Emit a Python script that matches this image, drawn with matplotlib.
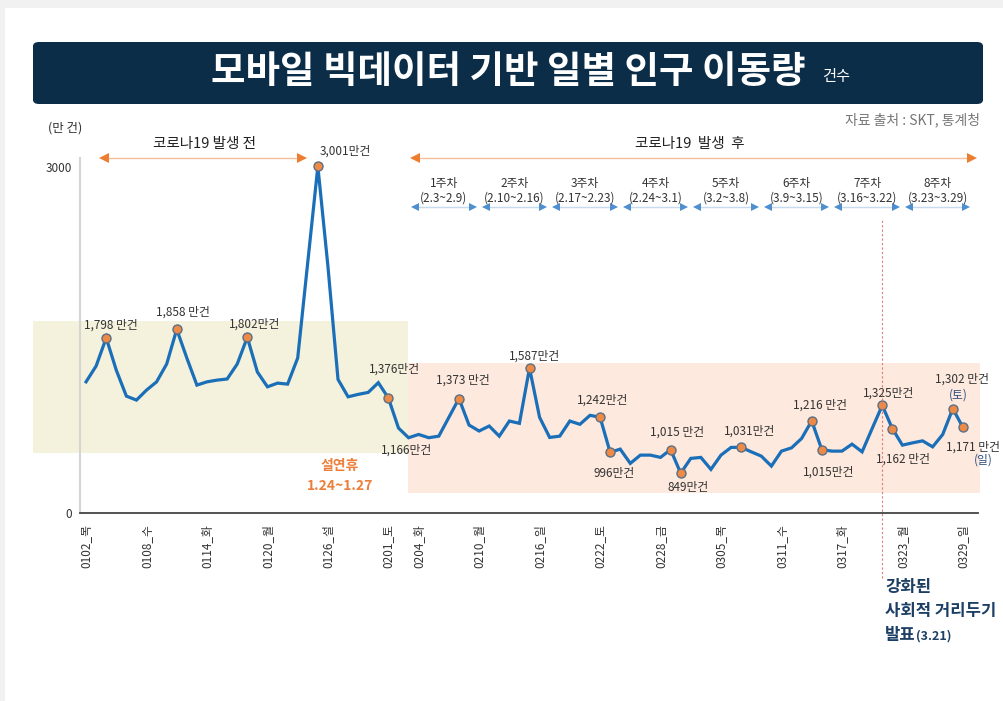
import matplotlib.pyplot as plt
import matplotlib.transforms as mtransforms
from matplotlib.patches import Rectangle, FancyBboxPatch
from matplotlib.lines import Line2D
import pandas as pd

plt.rcParams['font.family'] = ['Noto Sans CJK KR', 'DejaVu Sans']

# daily mobility, 2020-01-02 .. 2020-03-29 (unit: 만 건)
dates = pd.date_range('2020-01-02', '2020-03-29', freq='D')
moves = [
    1490, 1601, 1798, 1572, 1390, 1362, 1432, 1490, 1615, 1858,
    1657, 1467, 1490, 1502, 1510, 1615, 1802, 1559, 1455, 1481,
    1474, 1657, 2330, 3001, 2300, 1507, 1385, 1402, 1416, 1484,
    1376, 1166, 1098, 1121, 1098, 1109, 1241, 1373, 1187, 1145,
    1180, 1109, 1215, 1199, 1587, 1241, 1100, 1109, 1215, 1192,
    1255, 1242, 996, 1018, 918, 976, 976, 960, 1015, 849,
    953, 960, 876, 976, 1030, 1031, 999, 969, 899, 1004,
    1027, 1093, 1216, 1015, 1004, 1004, 1053, 999, 1163, 1325,
    1162, 1046, 1062, 1076, 1034, 1121, 1302, 1171,
]

tick_dates = ['2020-01-02', '2020-01-08', '2020-01-14', '2020-01-20', '2020-01-26',
              '2020-02-01', '2020-02-04', '2020-02-10', '2020-02-16', '2020-02-22',
              '2020-02-28', '2020-03-05', '2020-03-11', '2020-03-17', '2020-03-23',
              '2020-03-29']
tick_labels = ['0102_목', '0108_수', '0114_화', '0120_월', '0126_설', '0201_토',
               '0204_화', '0210_월', '0216_일', '0222_토', '0228_금', '0305_목',
               '0311_수', '0317_화', '0323_월', '0329_일']

week_names = ['1주차', '2주차', '3주차', '4주차', '5주차', '6주차', '7주차', '8주차']
week_ranges = ['(2.3~2.9)', '(2.10~2.16)', '(2.17~2.23)', '(2.24~3.1)',
               '(3.2~3.8)', '(3.9~3.15)', '(3.16~3.22)', '(3.23~3.29)']

# highlighted days and the unit suffix written next to each value
marked_dates = ['2020-01-04', '2020-01-11', '2020-01-18', '2020-01-25', '2020-02-01',
                '2020-02-08', '2020-02-15', '2020-02-22', '2020-02-23', '2020-02-29',
                '2020-03-01', '2020-03-07', '2020-03-14', '2020-03-15', '2020-03-21',
                '2020-03-22', '2020-03-28', '2020-03-29']
marked_suffix = [' 만건', ' 만건', '만건', '만건', '만건', ' 만건', '만건', '만건', '만건',
                 ' 만건', '만건', '만건', ' 만건', '만건', '만건', ' 만건', ' 만건', ' 만건']
plain_label_date = '2020-02-02'

idx = list(range(len(dates)))
pos = {d.strftime('%Y-%m-%d'): i for i, d in enumerate(dates)}

W, H = 1004, 701
fig = plt.figure(figsize=(W / 100, H / 100), dpi=100)
fig.patch.set_facecolor('#f1f1f1')


def fx(px):
    return px / W


def fy(py):
    return 1 - py / H


# white page + title banner
fig.patches.append(Rectangle((fx(5), 0), 1, fy(8), transform=fig.transFigure,
                             facecolor='white', edgecolor='none', zorder=-2))
fig.patches.append(FancyBboxPatch((fx(33), fy(104)), fx(983 - 33), (104 - 42) / H,
                                  boxstyle='round,pad=0,rounding_size=0.006',
                                  transform=fig.transFigure, facecolor='#0c2d48',
                                  edgecolor='none', zorder=-1))
fig.text(fx(508), fy(72), '모바일 빅데이터 기반 일별 인구 이동량', color='white',
         fontsize=27, fontweight='black', ha='center', va='center')
fig.text(fx(822), fy(76), '건수', color='white', fontsize=11, ha='left', va='center')
fig.text(fx(980), fy(120), '자료 출처 : SKT, 통계청', color='#777777', fontsize=10,
         ha='right', va='center')
fig.text(fx(65), fy(128), '(만 건)', color='#333333', fontsize=9, ha='center', va='center')

ax = fig.add_axes([fx(80), fy(513), fx(978 - 80), (513 - 158) / H])
ax.set_facecolor('none')
ax.set_xlim(-0.6, 88.5)
ax.set_ylim(570, 3060)

# shaded periods (extend past the axes on purpose)
ax.add_patch(Rectangle((-5.3, 990), 31.94 + 5.3, 1917 - 990, facecolor='#f4f1dc',
                       edgecolor='none', zorder=0, clip_on=False))
ax.add_patch(Rectangle((31.94, 710), 88.7 - 31.94, 1622 - 710, facecolor='#fde9dd',
                       edgecolor='none', zorder=0, clip_on=False))

blue = '#1a6fb8'
orange = '#ec7f3a'
ax.plot(idx, moves, color=blue, lw=2.3, zorder=3, solid_joinstyle='miter')

mx = [pos[d] for d in marked_dates]
ax.scatter(mx, [moves[i] for i in mx], s=42, facecolor='#ee8a45', edgecolor='#5a6f86',
           linewidth=1.0, zorder=4)

# label offsets in pixels (dx, dy)
offsets = [(5, 13), (6, 17), (7, 13), (27, 15), (6, 29), (4, 18), (5, 12), (3, 17),
           (4, -21), (6, 17), (7, -14), (8, 16), (8, 16), (7, -23), (6, 12), (11, -31),
           (9, 29), (10, -20)]
for i, suf, (dx, dy) in zip(mx, marked_suffix, offsets):
    ax.annotate(f'{moves[i]:,}{suf}', (i, moves[i]), xytext=(dx, dy),
                textcoords='offset pixels', ha='center', va='center',
                fontsize=8.5, color='#333333', zorder=5)
i = pos[plain_label_date]
ax.annotate(f'{moves[i]:,}만건', (i, moves[i]), xytext=(8, -22), textcoords='offset pixels',
            ha='center', va='center', fontsize=8.5, color='#333333', zorder=5)
sat, sun = pos['2020-03-28'], pos['2020-03-29']
ax.annotate('(토)', (sat, moves[sat]), xytext=(6, 14), textcoords='offset pixels',
            ha='center', va='center', fontsize=8.5, color='#2f4f80')
ax.annotate('(일)', (sun, moves[sun]), xytext=(20, -33), textcoords='offset pixels',
            ha='center', va='center', fontsize=8.5, color='#2f4f80')

# axes styling
for s in ['top', 'right']:
    ax.spines[s].set_visible(False)
ax.spines['left'].set_color('#d4d4d4')
ax.spines['left'].set_linewidth(1.5)
ax.spines['bottom'].set_color('#444444')
ax.spines['bottom'].set_linewidth(1.3)
ax.set_xticks([pos[d] for d in tick_dates], tick_labels, rotation=90, fontsize=8.5,
              color='#333333')
ax.set_yticks([570, 3000], ['0', '3000'], fontsize=8.5, color='#333333')
ax.tick_params(length=0, pad=6)
ax.tick_params(axis='x', pad=8)

tr = mtransforms.blended_transform_factory(ax.transData, fig.transFigure)


def double_arrow(x0, x1, y, line_color, head_color, head=7):
    """thin line with filled triangle heads at both ends (x in data, y in image px)"""
    ax.add_artist(Line2D([x0, x1], [fy(y), fy(y)], transform=tr, color=line_color,
                         lw=1.0, clip_on=False))
    ax.plot([x0], [fy(y)], marker='<', ms=head, color=head_color, mew=0,
            transform=tr, clip_on=False)
    ax.plot([x1], [fy(y)], marker='>', ms=head, color=head_color, mew=0,
            transform=tr, clip_on=False)


# period arrows
double_arrow(1.8, 21.4, 158, '#f6c09c', '#ed7d31')
double_arrow(32.6, 87.9, 158, '#f6c09c', '#ed7d31')
ax.text(11.8, fy(144), '코로나19 발생 전', transform=tr, ha='center', va='center',
        fontsize=10.5, color='#222222')
ax.text(59.9, fy(144), '코로나19  발생  후', transform=tr, ha='center', va='center',
        fontsize=10.5, color='#222222')

# week brackets
for k, (wn, wr) in enumerate(zip(week_names, week_ranges)):
    c = 35.5 + 7 * k
    double_arrow(c - 2.85, c + 2.85, 207, '#c6dbef', '#4f8fd0', head=6)
    ax.text(c, fy(183), wn, transform=tr, ha='center', va='center', fontsize=8.5,
            color='#333333')
    ax.text(c, fy(198), wr, transform=tr, ha='center', va='center', fontsize=8.5,
            color='#333333')

# announcement of stronger social distancing (3.21)
ann = pos['2020-03-21']
fig.add_artist(Line2D([ann, ann], [fy(578), fy(218)], transform=tr, color='#e07b7b',
                      lw=0.8, linestyle=(0, (2, 2)), zorder=2))
navy = '#1d3f66'
fig.text(fx(885), fy(587), '강화된', color=navy, fontsize=12, fontweight='bold',
         ha='left', va='center')
fig.text(fx(885), fy(611), '사회적 거리두기', color=navy, fontsize=12, fontweight='bold',
         ha='left', va='center')
fig.text(fx(885), fy(635), '발표', color=navy, fontsize=12, fontweight='bold',
         ha='left', va='center')
fig.text(fx(916), fy(636), '(3.21)', color=navy, fontsize=9, fontweight='bold',
         ha='left', va='center')

# lunar new year holiday note
fig.text(fx(340), fy(466), '설연휴', color=orange, fontsize=10, fontweight='bold',
         ha='center', va='center')
fig.text(fx(340), fy(486), '1.24~1.27', color=orange, fontsize=10, fontweight='bold',
         ha='center', va='center')

fig.savefig('out.png', dpi=100, facecolor=fig.get_facecolor())
